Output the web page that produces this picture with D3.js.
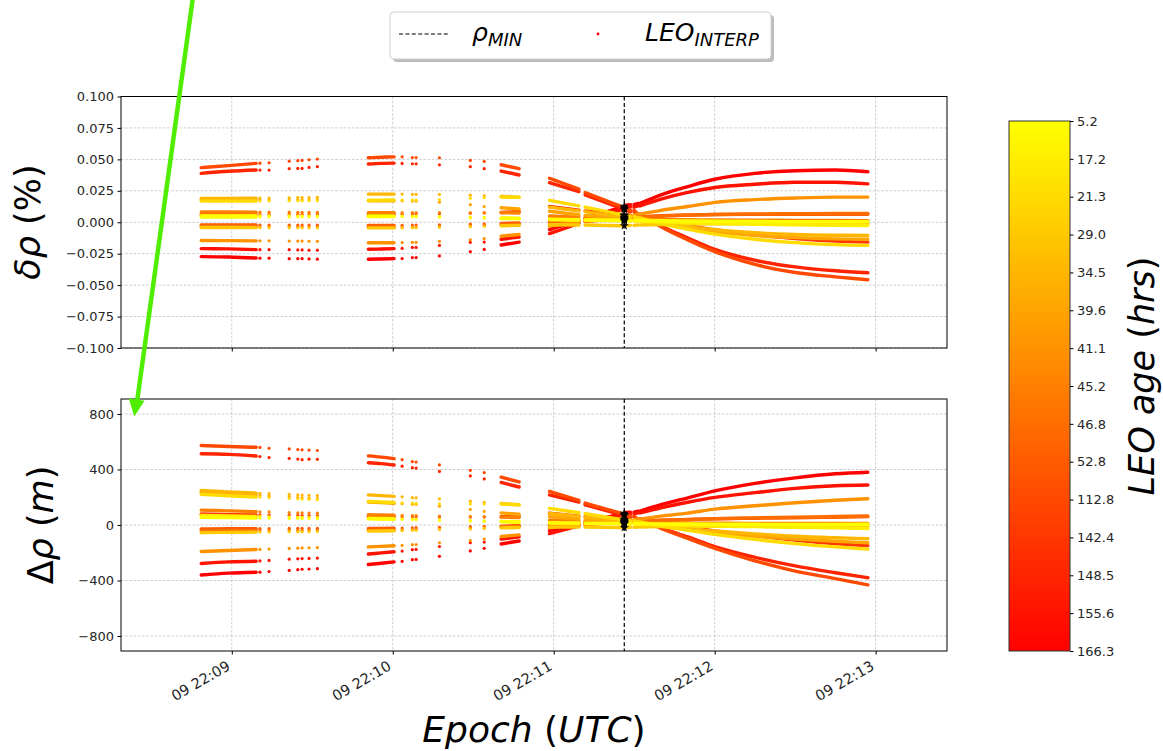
<!DOCTYPE html>
<html><head><meta charset="utf-8">
<script src="https://cdn.jsdelivr.net/npm/d3@7"></script>
<style>
html,body{margin:0;padding:0;background:#fff;}
svg{display:block;font-family:"DejaVu Sans","Liberation Sans",sans-serif;}
</style></head><body>
<svg id="chart" width="1163" height="751"></svg>
<script>
// ---------------- DATA ----------------
const baseTime = "2021-03-09T22:08:00Z";           // day 09, 22:08:00 UTC
// epochs, seconds after 22:08:00
const epochSec = [48.6,58.8,69.1, 70.5,73.9,81.4,84.6,86.2,88.8,91.9,
  110.9,115.7,120.5, 123.5,127.3,128.7,137.4,148.9,154.1, 160.4,167.1,
  178.4,189.4, 191.7,205.3, 206.8,208.6, 209.9,211.4,
  212.2,220,230,240.1,255,270,285,297.1];
// index ranges of epochs that form one continuous run of samples
const segments = [[0,2],[3,3],[4,4],[5,5],[6,6],[7,7],[8,8],[9,9],[10,12],
  [13,13],[14,14],[15,15],[16,16],[17,17],[18,18],[19,20],[21,22],[23,24],
  [25,26],[27,28],[29,36]];
const rhoMinSec = 206.3;
const leoAgeHrs = [5.2,17.2,21.3,29.0,34.5,39.6,41.1,45.2,46.8,52.8,112.8,142.4,148.5,155.6,166.3];
const xDomainSec = [18.7, 326.6];
const pctTicks = [-0.1,-0.075,-0.05,-0.025,0,0.025,0.05,0.075,0.1];
const mTicks = [-800,-400,0,400,800];
const mDomain = [-908, 908];

// relative range error (%) per LEO (index = leoAgeHrs index)
const deltaPct = [
 [0.0042,0.0042,0.0042, 0.0042,0.0042,0.0042,0.0043,0.0043,0.0043,0.0043, 0.0045,0.0045,0.0045, 0.0045,0.0044,0.0044,0.0040,0.0035,0.0033, 0.0030,0.0028, 0.0020,0.0018, 0.0018,0.0016, 0.0015,0.0015, 0.0015,0.0014, 0.0014,0.0012,0.0010,0.0008,0.0006,0.0005,0.0005,0.0005],
 [0.0052,0.0052,0.0052, 0.0052,0.0052,0.0052,0.0051,0.0051,0.0051,0.0051, 0.0050,0.0050,0.0050, 0.0050,0.0048,0.0048,0.0045,0.0040,0.0038, 0.0035,0.0032, 0.0025,0.0020, 0.0018,0.0012, 0.0010,0.0009, 0.0009,0.0008, 0.0008,0.0002,-0.0004,-0.0010,-0.0016,-0.0021,-0.0024,-0.0026],
 [0.0168,0.0168,0.0169, 0.0169,0.0169,0.0170,0.0170,0.0170,0.0171,0.0171, 0.0175,0.0176,0.0177, 0.0177,0.0177,0.0177,0.0180,0.0190,0.0195, 0.0200,0.0198, 0.0174,0.0130, 0.0120,0.0060, 0.0050,0.0045, 0.0045,0.0035, 0.0035,-0.0010,-0.0055,-0.0095,-0.0135,-0.0162,-0.0178,-0.0184],
 [-0.0042,-0.0042,-0.0043, -0.0043,-0.0043,-0.0043,-0.0044,-0.0044,-0.0044,-0.0044, -0.0045,-0.0045,-0.0045, -0.0045,-0.0043,-0.0043,-0.0040,-0.0035,-0.0032, -0.0028,-0.0025, -0.0020,-0.0022, -0.0022,-0.0028, -0.0027,-0.0025, -0.0025,-0.0022, -0.0022,-0.0018,-0.0015,-0.0013,-0.0011,-0.0010,-0.0010,-0.0010],
 [0.0189,0.0190,0.0192, 0.0192,0.0193,0.0195,0.0196,0.0196,0.0197,0.0198, 0.0224,0.0224,0.0224, 0.0224,0.0222,0.0222,0.0222,0.0215,0.0210, 0.0205,0.0200, 0.0120,0.0090, 0.0085,0.0040, 0.0035,0.0032, 0.0032,0.0025, 0.0025,-0.0005,-0.0035,-0.0060,-0.0083,-0.0097,-0.0103,-0.0105],
 [0.0179,0.0179,0.0178, 0.0178,0.0178,0.0178,0.0178,0.0178,0.0178,0.0178, 0.0170,0.0170,0.0170, 0.0170,0.0168,0.0168,0.0160,0.0140,0.0125, 0.0115,0.0105, 0.0087,0.0060, 0.0055,0.0030, 0.0028,0.0026, 0.0026,0.0022, 0.0022,-0.0005,-0.0040,-0.0075,-0.0105,-0.0122,-0.0132,-0.0135],
 [-0.0145,-0.0146,-0.0148, -0.0148,-0.0148,-0.0150,-0.0150,-0.0150,-0.0151,-0.0152, -0.0163,-0.0163,-0.0163, -0.0162,-0.0160,-0.0160,-0.0152,-0.0140,-0.0130, -0.0110,-0.0097, -0.0030,0.0000, 0.0010,0.0050, 0.0055,0.0058, 0.0058,0.0065, 0.0065,0.0095,0.0125,0.0158,0.0180,0.0193,0.0200,0.0200],
 [0.0081,0.0081,0.0080, 0.0080,0.0080,0.0080,0.0079,0.0079,0.0079,0.0079, 0.0076,0.0076,0.0076, 0.0076,0.0076,0.0076,0.0076,0.0075,0.0075, 0.0075,0.0074, 0.0050,0.0040, 0.0040,0.0020, 0.0020,0.0020, 0.0020,0.0020, 0.0020,0.0020,0.0020,0.0018,0.0016,0.0015,0.0014,0.0013],
 [-0.0032,-0.0032,-0.0033, -0.0033,-0.0033,-0.0033,-0.0034,-0.0034,-0.0034,-0.0034, -0.0040,-0.0040,-0.0040, -0.0039,-0.0037,-0.0037,-0.0033,-0.0027,-0.0024, -0.0020,-0.0015, -0.0015,0.0000, 0.0005,0.0030, 0.0032,0.0033, 0.0033,0.0038, 0.0038,0.0048,0.0056,0.0062,0.0066,0.0068,0.0069,0.0069],
 [-0.0021,-0.0021,-0.0022, -0.0022,-0.0022,-0.0022,-0.0022,-0.0022,-0.0022,-0.0022, -0.0025,-0.0025,-0.0025, -0.0024,-0.0022,-0.0022,-0.0020,-0.0015,-0.0012, -0.0010,-0.0005, 0.0000,0.0015, 0.0020,0.0040, 0.0042,0.0043, 0.0043,0.0045, 0.0045,0.0052,0.0058,0.0062,0.0063,0.0063,0.0063,0.0063],
 [0.0434,0.0450,0.0468, 0.0470,0.0473,0.0486,0.0490,0.0492,0.0497,0.0502, 0.0513,0.0517,0.0520, 0.0520,0.0515,0.0515,0.0513,0.0492,0.0484, 0.0457,0.0426, 0.0350,0.0263, 0.0235,0.0125, 0.0105,0.0095, 0.0095,0.0065, 0.0065,-0.0035,-0.0140,-0.0234,-0.0335,-0.0400,-0.0434,-0.0457],
 [0.0060,0.0060,0.0061, 0.0061,0.0061,0.0062,0.0062,0.0062,0.0062,0.0062, 0.0062,0.0063,0.0064, 0.0064,0.0066,0.0066,0.0068,0.0072,0.0074, 0.0078,0.0085, 0.0125,0.0095, 0.0090,0.0060, 0.0055,0.0050, 0.0050,0.0045, 0.0045,0.0010,-0.0025,-0.0060,-0.0100,-0.0130,-0.0150,-0.0158],
 [0.0389,0.0405,0.0415, 0.0415,0.0415,0.0426,0.0428,0.0428,0.0436,0.0442, 0.0463,0.0468,0.0470, 0.0468,0.0465,0.0465,0.0457,0.0442,0.0426, 0.0407,0.0376, 0.0315,0.0244, 0.0218,0.0110, 0.0095,0.0085, 0.0085,0.0060, 0.0060,-0.0030,-0.0125,-0.0216,-0.0302,-0.0355,-0.0386,-0.0402],
 [-0.0210,-0.0212,-0.0218, -0.0218,-0.0218,-0.0218,-0.0220,-0.0220,-0.0222,-0.0222, -0.0215,-0.0213,-0.0210, -0.0208,-0.0200,-0.0200,-0.0184,-0.0160,-0.0158, -0.0135,-0.0118, -0.0090,-0.0010, 0.0010,0.0100, 0.0115,0.0120, 0.0120,0.0130, 0.0130,0.0184,0.0237,0.0276,0.0302,0.0318,0.0318,0.0305],
 [-0.0273,-0.0276,-0.0284, -0.0286,-0.0286,-0.0290,-0.0290,-0.0290,-0.0292,-0.0294, -0.0294,-0.0292,-0.0289, -0.0289,-0.0281,-0.0281,-0.0268,-0.0234,-0.0216, -0.0181,-0.0158, -0.0058,0.0015, 0.0030,0.0120, 0.0135,0.0140, 0.0140,0.0150, 0.0150,0.0218,0.0284,0.0342,0.0389,0.0410,0.0415,0.0402]
];
// absolute range error (m) per LEO
const deltaM = [
 [55,53,50, 50,49,47,48,47,47,46, 44,43,41, 41,39,39,34,28,26, 23,20, 14,12, 12,11, 10,10, 10,9, 9,8,7,6,5,4,4,5],
 [69,65,62, 62,61,59,57,56,55,55, 49,47,46, 45,43,42,38,32,30, 26,23, 17,14, 12,8, 7,6, 6,5, 5,1,-3,-7,-12,-17,-21,-25],
 [222,211,202, 201,198,192,189,187,186,183, 170,166,163, 160,157,156,152,152,152, 151,145, 120,88, 81,40, 33,30, 30,23, 23,-7,-38,-68,-104,-134,-158,-174],
 [-55,-53,-51, -51,-50,-48,-49,-48,-48,-47, -44,-43,-41, -41,-38,-38,-34,-28,-25, -21,-18, -14,-15, -15,-19, -18,-17, -17,-15, -15,-12,-10,-9,-8,-8,-9,-9],
 [249,239,230, 228,226,220,218,216,214,212, 217,212,206, 203,197,196,188,172,164, 155,146, 83,61, 57,27, 23,21, 21,17, 17,-3,-24,-43,-64,-81,-92,-99],
 [236,225,213, 212,208,201,198,196,193,190, 165,161,156, 154,149,148,135,112,98, 87,77, 60,41, 37,20, 19,17, 17,15, 15,-3,-28,-54,-81,-101,-117,-128],
 [-191,-184,-177, -176,-173,-169,-167,-165,-164,-163, -158,-154,-150, -147,-142,-141,-128,-112,-101, -83,-71, -21,0, 7,33, 37,39, 39,43, 43,64,86,114,139,160,178,189],
 [107,102,96, 95,94,90,88,87,86,85, 74,72,70, 69,67,67,64,60,59, 57,54, 35,27, 27,13, 13,13, 13,13, 13,13,14,13,12,12,12,12],
 [-42,-40,-40, -39,-39,-37,-38,-37,-37,-36, -39,-38,-37, -35,-33,-33,-28,-22,-19, -15,-11, -10,0, 3,20, 21,22, 22,25, 25,32,39,45,51,56,61,65],
 [-28,-26,-26, -26,-26,-25,-24,-24,-24,-24, -24,-24,-23, -22,-20,-19,-17,-12,-9, -8,-4, 0,10, 13,27, 28,29, 29,30, 30,35,40,45,49,52,56,60],
 [573,566,560, 559,553,548,544,542,540,537, 498,489,478, 471,457,454,433,394,378, 345,311, 242,178, 158,83, 70,63, 63,43, 43,-24,-97,-168,-258,-332,-386,-432],
 [79,75,73, 73,71,70,69,68,67,66, 60,60,59, 58,59,58,57,58,58, 59,62, 86,64, 60,40, 37,33, 33,30, 30,7,-17,-43,-77,-108,-134,-149],
 [513,509,497, 493,486,480,475,471,474,473, 449,442,432, 424,413,410,386,354,332, 307,274, 217,165, 146,73, 63,57, 57,40, 40,-20,-86,-156,-233,-295,-344,-380],
 [-277,-266,-261, -259,-255,-246,-244,-242,-241,-238, -209,-201,-193, -188,-178,-176,-155,-128,-123, -102,-86, -62,-7, 7,67, 76,80, 80,87, 87,124,164,199,233,264,283,288],
 [-360,-347,-340, -340,-335,-327,-322,-319,-317,-315, -285,-276,-266, -262,-250,-248,-226,-187,-168, -137,-115, -40,10, 20,80, 90,93, 93,100, 100,146,196,246,300,340,369,380]
];
// values at the epoch of minimum range (black markers)
const rhoMinPct = [0.0016,0.0011,0.0055,-0.0028,0.0038,0.0029,0.0052,0.0020,0.0031,0.0041,0.0115,0.0058,0.0102,0.0108,0.0128];
const rhoMinM   = [11,7,37,-19,25,19,35,13,21,27,76,39,68,72,85];

// ---------------- DRAWING ----------------
const svg = d3.select("#chart");
const t0 = new Date(baseTime).getTime();
const toDate = s => new Date(t0 + s * 1000);
const plotX = [121, 947];
const x = d3.scaleUtc().domain(xDomainSec.map(toDate)).range(plotX);
const nAge = leoAgeHrs.length;
const colorOf = i => d3.interpolateRgb("#ffff00", "#ff0000")(i / (nAge - 1));
const minuteTicks = x.ticks(d3.utcMinute.every(1));

function panel(id, yRange, yScale, yTicks, yFmt, values, starVals, showXLabels) {
  const g = svg.append("g");
  const [y0, y1] = yRange;
  g.append("clipPath").attr("id", id).append("rect")
    .attr("x", plotX[0]).attr("y", y0).attr("width", plotX[1] - plotX[0]).attr("height", y1 - y0);
  // grid
  const grid = g.append("g").attr("stroke", "#b8b8b8").attr("stroke-width", 0.7).attr("stroke-dasharray", "2.6,1.6");
  grid.selectAll("line.gx").data(minuteTicks).join("line")
    .attr("x1", d => x(d)).attr("x2", d => x(d)).attr("y1", y0).attr("y2", y1);
  grid.selectAll("line.gy").data(yTicks).join("line")
    .attr("x1", plotX[0]).attr("x2", plotX[1]).attr("y1", d => yScale(d)).attr("y2", d => yScale(d));
  // data
  const dg = g.append("g").attr("clip-path", `url(#${id})`);
  const order = d3.range(nAge).reverse();
  order.forEach(k => {
    const vals = values[k];
    const col = colorOf(k);
    const sg = dg.append("g");
    const line = d3.line().curve(d3.curveMonotoneX)
      .x(i => x(toDate(epochSec[i]))).y(i => yScale(vals[i]));
    segments.forEach(([a, b]) => {
      if (a === b) {
        sg.append("circle").attr("cx", x(toDate(epochSec[a]))).attr("cy", yScale(vals[a]))
          .attr("r", 1.6).attr("fill", col);
      } else {
        sg.append("path").attr("d", line(d3.range(a, b + 1)))
          .attr("fill", "none").attr("stroke", col).attr("stroke-width", 3.4)
          .attr("stroke-linecap", "round").attr("stroke-linejoin", "round");
      }
    });
  });
  // rho min line
  const xm = x(toDate(rhoMinSec));
  g.append("line").attr("x1", xm).attr("x2", xm).attr("y1", y0).attr("y2", y1)
    .attr("stroke", "#000").attr("stroke-width", 1.2).attr("stroke-dasharray", "4,2.4");
  // black markers at rho min
  dg.selectAll("path.star").data(starVals).join("path")
    .attr("transform", d => `translate(${xm},${yScale(d)})`)
    .attr("d", d3.symbol(d3.symbolStar, 26)).attr("fill", "#000");
  // spines
  g.append("rect").attr("x", plotX[0]).attr("y", y0).attr("width", plotX[1] - plotX[0]).attr("height", y1 - y0)
    .attr("fill", "none").attr("stroke", "#000").attr("stroke-width", 1);
  // y axis
  const ya = g.append("g").attr("transform", `translate(${plotX[0]},0)`)
    .call(d3.axisLeft(yScale).tickValues(yTicks).tickFormat(yFmt).tickSize(3.5).tickPadding(3.5));
  ya.select(".domain").remove();
  ya.selectAll("text").attr("font-size", 13).attr("fill", "#262626").attr("font-family", "DejaVu Sans");
  // x axis
  const xa = g.append("g").attr("transform", `translate(0,${y1})`)
    .call(d3.axisBottom(x).ticks(d3.utcMinute.every(1)).tickSize(3.5)
      .tickFormat(showXLabels ? d3.utcFormat("%d %H:%M") : () => ""));
  xa.select(".domain").remove();
  if (showXLabels) {
    xa.selectAll("text").attr("font-size", 14.5).attr("fill", "#262626").attr("font-family", "DejaVu Sans")
      .attr("x", 0).attr("y", 0).attr("dy", 0).attr("text-anchor", "end")
      .attr("transform", "translate(-1,18) rotate(-30)");
  }
  return g;
}

const yTop = d3.scaleLinear().domain([-0.1, 0.1]).range([348, 96.5]);
const yBot = d3.scaleLinear().domain(mDomain).range([651, 399]);
panel("clipTop", [96.5, 348], yTop, pctTicks, d3.format(".3f"), deltaPct, rhoMinPct, false);
panel("clipBot", [399, 651], yBot, mTicks, d3.format("d"), deltaM, rhoMinM, true);

// axis labels
const lab1 = svg.append("text").attr("transform", "translate(40,222) rotate(-90)")
  .attr("text-anchor", "middle").attr("font-size", 35).attr("fill", "#000");
lab1.append("tspan").attr("font-style", "italic").text("δρ");
lab1.append("tspan").text(" (%)");
const lab2 = svg.append("text").attr("transform", "translate(53,525) rotate(-90)")
  .attr("text-anchor", "middle").attr("font-size", 35).attr("fill", "#000");
lab2.append("tspan").text("Δ");
lab2.append("tspan").attr("font-style", "italic").text("ρ");
lab2.append("tspan").text(" (");
lab2.append("tspan").attr("font-style", "italic").text("m");
lab2.append("tspan").text(")");
const lab3 = svg.append("text").attr("x", 534).attr("y", 742)
  .attr("text-anchor", "middle").attr("font-size", 36).attr("fill", "#000");
lab3.append("tspan").attr("font-style", "italic").text("Epoch");
lab3.append("tspan").text(" (");
lab3.append("tspan").attr("font-style", "italic").text("UTC");
lab3.append("tspan").text(")");

// colorbar
const cb = { x: 1009, y: 121, w: 61, h: 530 };
const defs = svg.append("defs");
const grad = defs.append("linearGradient").attr("id", "cbg").attr("x1", 0).attr("x2", 0).attr("y1", 0).attr("y2", 1);
d3.range(0, 1.0001, 0.1).forEach(t => grad.append("stop").attr("offset", t).attr("stop-color", colorOf(t * (nAge - 1))));
svg.append("rect").attr("x", cb.x).attr("y", cb.y).attr("width", cb.w).attr("height", cb.h)
  .attr("fill", "url(#cbg)").attr("stroke", "#333").attr("stroke-width", 1);
const cbScale = d3.scalePoint().domain(d3.range(nAge)).range([cb.y, cb.y + cb.h]);
const cba = svg.append("g").attr("transform", `translate(${cb.x + cb.w},0)`)
  .call(d3.axisRight(cbScale).tickFormat(i => d3.format(".1f")(leoAgeHrs[i])).tickSize(3.5).tickPadding(3.5));
cba.select(".domain").remove();
cba.selectAll("text").attr("font-size", 13).attr("fill", "#262626").attr("font-family", "DejaVu Sans");
const lab4 = svg.append("text").attr("transform", "translate(1154,376) rotate(-90)")
  .attr("text-anchor", "middle").attr("font-size", 35).attr("fill", "#000");
lab4.append("tspan").attr("font-style", "italic").text("LEO age");
lab4.append("tspan").text(" (");
lab4.append("tspan").attr("font-style", "italic").text("hrs");
lab4.append("tspan").text(")");

// legend
const lg = svg.append("g");
lg.append("rect").attr("x", 393).attr("y", 15).attr("width", 381).attr("height", 47).attr("rx", 4)
  .attr("fill", "#7a7a7a").attr("opacity", 0.5);
lg.append("rect").attr("x", 390).attr("y", 12).attr("width", 381).attr("height", 47).attr("rx", 4)
  .attr("fill", "#fff").attr("stroke", "#cfcfcf").attr("stroke-width", 1);
lg.append("line").attr("x1", 399).attr("x2", 450).attr("y1", 34).attr("y2", 34)
  .attr("stroke", "#000").attr("stroke-width", 1.2).attr("stroke-dasharray", "4,2.4");
const lt1 = lg.append("text").attr("x", 472).attr("y", 41).attr("font-size", 25).attr("font-style", "italic");
lt1.append("tspan").text("ρ");
lt1.append("tspan").attr("font-size", 18).attr("dy", 5).text("MIN");
lg.append("circle").attr("cx", 598).attr("cy", 34).attr("r", 1.4).attr("fill", colorOf(nAge - 1));
const lt2 = lg.append("text").attr("x", 645).attr("y", 41).attr("font-size", 25).attr("font-style", "italic");
lt2.append("tspan").text("LEO");
lt2.append("tspan").attr("font-size", 18).attr("dy", 5).text("INTERP");

// green annotation arrow
const ag = svg.append("g");
ag.append("line").attr("x1", 193).attr("y1", -3).attr("x2", 137).attr("y2", 402)
  .attr("stroke", "#4fee00").attr("stroke-width", 4.5);
ag.append("polygon").attr("points", "134.3,416.5 128.8,398.5 144.6,400.8").attr("fill", "#4fee00");
</script>
</body></html>
